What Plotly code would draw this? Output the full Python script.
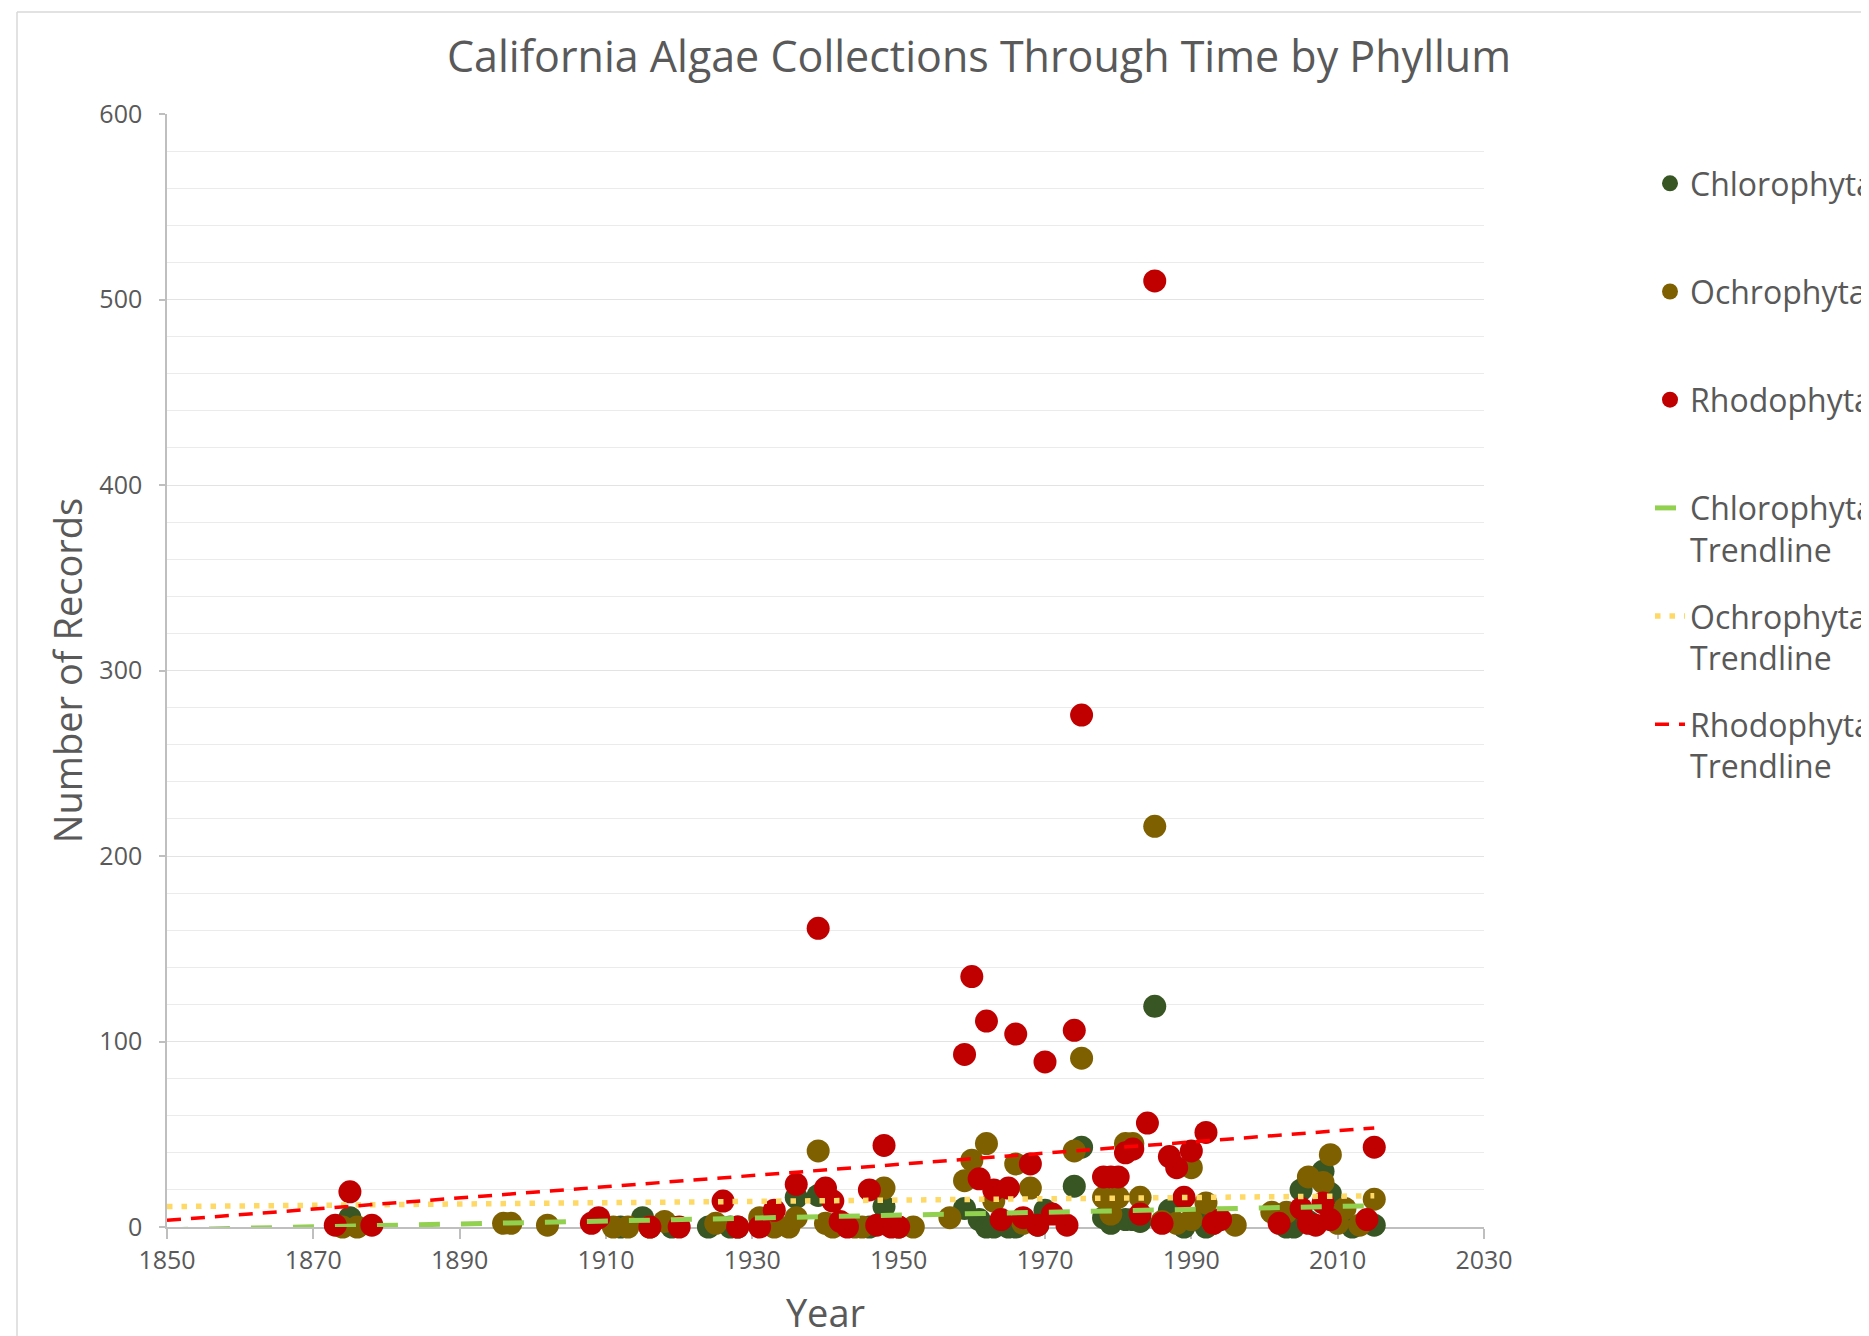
import plotly.graph_objects as go

# ---------------- data ----------------
chl_year = [1875, 1912, 1915, 1919, 1924, 1927, 1928, 1936, 1939, 1946, 1948,
            1959, 1961, 1962, 1963, 1965, 1966, 1969, 1970, 1974, 1975, 1978,
            1979, 1981, 1982, 1983, 1985, 1987, 1989, 1991, 1992, 2003, 2004,
            2005, 2006, 2008, 2009, 2010, 2012, 2015]
chl_val = [5, 0, 5, 0, 0, 0, 0, 16, 17, 0, 11,
           10, 4, 0, 0, 0, 0, 1, 9, 22, 43, 5,
           2, 4, 4, 3, 119, 9, 0, 5, 0, 0, 0,
           20, 3, 30, 18, 5, 0, 1]

och_year = [1874, 1876, 1896, 1897, 1902, 1911, 1913, 1916, 1918, 1925, 1931,
            1933, 1935, 1936, 1939, 1940, 1941, 1944, 1945, 1948, 1950, 1952,
            1957, 1959, 1960, 1962, 1963, 1966, 1967, 1968, 1974, 1975, 1978,
            1979, 1980, 1981, 1982, 1983, 1985, 1986, 1988, 1990, 1990, 1992,
            1993, 1996, 2001, 2003, 2006, 2008, 2009, 2010, 2011, 2013, 2015]
och_val = [0, 0, 2, 2, 1, 0, 0, 0, 3, 2, 5,
           0, 0, 5, 41, 2, 0, 0, 0, 21, 0, 0,
           5, 25, 36, 45, 14, 34, 2, 21, 41, 91, 16,
           7, 16, 45, 45, 16, 216, 3, 2, 32, 4, 13,
           2, 1, 8, 8, 27, 24, 39, 2, 10, 1, 15]

rho_year = [1873, 1875, 1878, 1908, 1909, 1916, 1920, 1926, 1928, 1931, 1933,
            1936, 1939, 1940, 1941, 1942, 1943, 1946, 1947, 1948, 1949, 1950,
            1959, 1960, 1961, 1962, 1963, 1964, 1965, 1966, 1967, 1968, 1969,
            1970, 1971, 1973, 1974, 1975, 1978, 1979, 1980, 1981, 1982, 1983,
            1984, 1985, 1986, 1987, 1988, 1989, 1990, 1992, 1993, 1994, 2002,
            2005, 2006, 2007, 2008, 2009, 2014, 2015]
rho_val = [1, 19, 1, 2, 5, 0, 0, 14, 0, 0, 9,
           23, 161, 21, 14, 3, 0, 20, 1, 44, 0, 0,
           93, 135, 26, 111, 20, 4, 21, 104, 5, 34, 1,
           89, 7, 1, 106, 276, 27, 27, 27, 40, 42, 7,
           56, 510, 2, 38, 32, 16, 41, 51, 2, 4, 2,
           10, 2, 1, 13, 4, 4, 43]

# linear trendline end values
trend_year = [1850, 2015]
chl_trend = [-1.5, 11.5]
och_trend = [11.0, 16.8]
rho_trend = [3.6, 53.4]

names = ["Chlorophyta", "Ochrophyta", "Rhodophyta"]
x_ticks = [1850, 1870, 1890, 1910, 1930, 1950, 1970, 1990, 2010, 2030]
y_ticks = [0, 100, 200, 300, 400, 500, 600]

# ---------------- styling ----------------
FONT = "Open Sans"
GREY = "#595959"
marker_colors = ["#375623", "#7F6000", "#C00000"]
W, H = 1869, 1336
ML, MR, MT, MB = 159, 393, 106, 117

fig = go.Figure()

for i, (xs, ys) in enumerate([(chl_year, chl_val), (och_year, och_val), (rho_year, rho_val)]):
    fig.add_trace(go.Scatter(
        x=xs, y=ys, mode="markers", name=names[i] + "<br> ",
        legendgroup="g%d" % i,
        marker=dict(color=marker_colors[i], size=23, line=dict(width=0)),
        cliponaxis=False,
    ))

fig.add_trace(go.Scatter(
    x=trend_year, y=chl_trend, mode="lines", name="Chlorophyta<br>Trendline",
    legendgroup="t0",
    line=dict(color="#92D050", width=5, dash="21px,21px"),
))
fig.add_trace(go.Scatter(
    x=trend_year, y=och_trend, mode="lines", name="Ochrophyta<br>Trendline",
    legendgroup="t1",
    line=dict(color="#FFD966", width=5.5, dash="5.5px,9px"),
))
fig.add_trace(go.Scatter(
    x=trend_year, y=rho_trend, mode="lines", name="Rhodophyta<br>Trendline",
    legendgroup="t2",
    line=dict(color="#FF0000", width=3.5, dash="14px,10px"),
))

fig.update_layout(
    width=W, height=H,
    margin=dict(l=ML, r=MR, t=MT, b=MB, autoexpand=False),
    paper_bgcolor="white", plot_bgcolor="white",
    font=dict(family=FONT, color=GREY),
    title=dict(text="California Algae Collections Through Time by Phyllum",
               font=dict(family=FONT, size=43, color=GREY),
               x=971 / W, xanchor="center", xref="container",
               y=1 - 49 / H, yanchor="middle", yref="container"),
    showlegend=True,
    legend=dict(xref="container", yref="container",
                x=1642 / W, xanchor="left",
                y=1 - 148 / H, yanchor="top",
                font=dict(family=FONT, size=32, color=GREY),
                traceorder="grouped", tracegroupgap=22,
                valign="top", itemsizing="trace",
                bgcolor="rgba(0,0,0,0)"),
    xaxis=dict(range=[1850, 2030], tickvals=x_ticks,
               showgrid=False, zeroline=False,
               showline=True, linecolor="#BFBFBF", linewidth=1.5,
               ticks="outside", ticklen=10, tickcolor="#BFBFBF", tickwidth=1.5,
               tickfont=dict(family=FONT, size=25, color=GREY),
               title=dict(text="Year", font=dict(family=FONT, size=38, color=GREY),
                          standoff=26),
               layer="below traces"),
    yaxis=dict(range=[0, 600], tickvals=y_ticks,
               showgrid=True, gridcolor="#E3E3E3", gridwidth=1.2, zeroline=False,
               minor=dict(dtick=20, showgrid=True, gridcolor="#EBEBEB", gridwidth=1.2),
               showline=True, linecolor="#BFBFBF", linewidth=1.5,
               ticks="outside", ticklen=6, tickcolor="#BFBFBF", tickwidth=1.5,
               tickfont=dict(family=FONT, size=25, color=GREY),
               ticklabelstandoff=12,
               title=dict(text="Number of Records", font=dict(family=FONT, size=38, color=GREY),
                          standoff=5),
               layer="below traces"),
)

# chart-area border (top and left edges visible in the reference)
pw = W - ML - MR
ph = H - MT - MB
bx = (9 - ML) / pw
by = 1 + (MT - 4) / ph
fig.add_shape(type="line", xref="paper", yref="paper", x0=bx, x1=2.0, y0=by, y1=by,
              line=dict(color="#D9D9D9", width=1.5))
fig.add_shape(type="line", xref="paper", yref="paper", x0=bx, x1=bx, y0=by, y1=-0.5,
              line=dict(color="#D9D9D9", width=1.5))

fig.write_html("out.html")
